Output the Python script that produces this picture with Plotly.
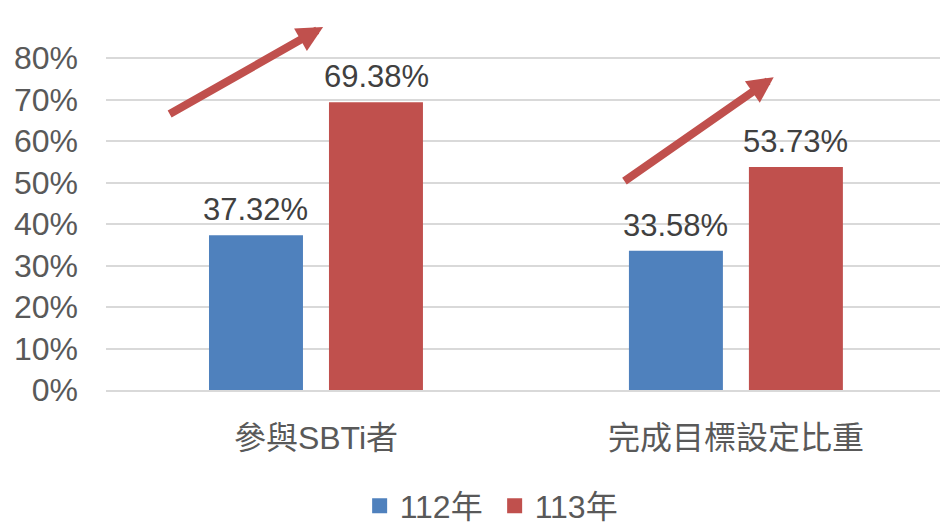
import plotly.graph_objects as go

categories = ["參與SBTi者", "完成目標設定比重"]
series_names = ["112年", "113年"]
values_112 = [0.3732, 0.3358]
values_113 = [0.6938, 0.5373]
y_ticks = [0, 0.1, 0.2, 0.3, 0.4, 0.5, 0.6, 0.7, 0.8]
y_tick_labels = ["0%", "10%", "20%", "30%", "40%", "50%", "60%", "70%", "80%"]

colors = ["#4F81BD", "#C0504D"]
FONT = "Arial, 'Liberation Sans', 'Noto Sans CJK TC', sans-serif"

fig = go.Figure()
for name, vals, col in zip(series_names, [values_112, values_113], colors):
    fig.add_trace(go.Bar(
        x=categories, y=vals, name=name, showlegend=False,
        marker=dict(color=col, line=dict(width=0)),
        hoverinfo="skip",
    ))
# legend entries (square swatches like the original)
for name, col in zip(series_names, colors):
    fig.add_trace(go.Scatter(
        x=[None], y=[None], mode="markers", name=name,
        marker=dict(symbol="square", size=15, color=col),
        hoverinfo="skip",
    ))

# data labels
offsets = [-0.143, 0.143]
annotations = []
for vals, off in zip([values_112, values_113], offsets):
    for i, v in enumerate(vals):
        annotations.append(dict(
            x=i + off, y=v, xref="x", yref="y",
            text=f"{v*100:.2f}%", showarrow=False,
            yanchor="bottom", yshift=6,
            font=dict(family=FONT, size=31, color="#404040"),
        ))

# trend arrows (tail -> head) per category, anchored to data space
arrow_specs = [
    dict(tail=(-0.352, 0.663), head=(0.017, 0.875)),
    dict(tail=(0.731, 0.501), head=(1.090, 0.754)),
]
for a in arrow_specs:
    annotations.append(dict(
        x=a["head"][0], y=a["head"][1], ax=a["tail"][0], ay=a["tail"][1],
        xref="x", yref="y", axref="x", ayref="y",
        text="", showarrow=True, arrowhead=2, arrowsize=0.65,
        arrowwidth=8, arrowcolor="#C0504D", standoff=0,
    ))

fig.update_layout(
    width=945, height=522,
    margin=dict(l=106, r=5, t=0, b=132, autoexpand=False),
    paper_bgcolor="white", plot_bgcolor="white",
    barmode="group", bargap=0.4286, bargroupgap=0.2167,
    font=dict(family=FONT, size=32, color="#595959"),
    showlegend=True,
    legend=dict(
        orientation="h", x=0.466, xanchor="center", y=-0.2975, yanchor="middle",
        font=dict(family=FONT, size=32, color="#595959"),
        itemwidth=30, entrywidth=90, bgcolor="rgba(0,0,0,0)",
    ),
    annotations=annotations,
)
fig.update_xaxes(
    range=[-0.5, 1.486], showgrid=False, showline=True,
    linecolor="#D9D9D9", linewidth=2, ticks="",
    ticklabelstandoff=19, automargin=False,
    tickfont=dict(family=FONT, size=32, color="#595959"),
)
fig.update_yaxes(
    range=[0, 0.94], tickvals=y_ticks, ticktext=y_tick_labels,
    showgrid=True, gridcolor="#D9D9D9", gridwidth=1.5,
    zeroline=False, showline=False, ticks="",
    ticklabelstandoff=27, automargin=False,
    tickfont=dict(family=FONT, size=32, color="#595959"),
)

fig.write_html(
    "out.html",
    config={"displayModeBar": False},
    post_script="document.body.style.margin='0';",
)
